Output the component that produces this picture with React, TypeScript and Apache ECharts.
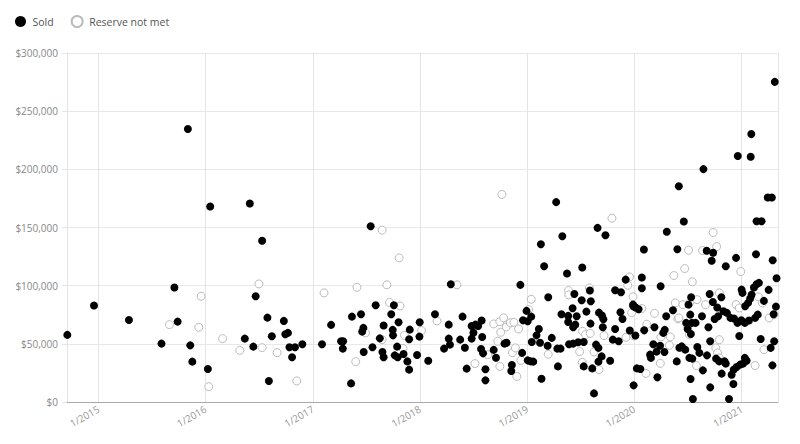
import React, { useEffect, useRef } from "react";
import * as echarts from "echarts";

const xMin = "2014-09-16";
const xMax = "2021-05-05";

const yTicks = [0, 50000, 100000, 150000, 200000, 250000, 300000];

const soldDates: string[] = [
  "2014-09-17","2014-12-17","2015-04-15","2015-08-04","2015-09-17","2015-09-28","2015-11-02","2015-11-10","2015-11-17","2016-01-09",
  "2016-01-17","2016-05-14","2016-05-31","2016-06-12","2016-06-20","2016-07-12","2016-07-30","2016-08-04","2016-08-14","2016-09-24",
  "2016-09-29","2016-10-08","2016-10-13","2016-10-22","2016-11-01","2016-11-26","2017-02-01","2017-03-04","2017-04-07","2017-04-13",
  "2017-04-14","2017-05-11","2017-05-14","2017-06-14","2017-06-18","2017-06-22","2017-06-23","2017-07-17","2017-07-23","2017-08-03",
  "2017-08-17","2017-08-26","2017-08-30","2017-08-30","2017-09-25","2017-09-30","2017-10-01","2017-10-04","2017-10-07","2017-10-15",
  "2017-10-17","2017-10-20","2017-11-06","2017-11-19","2017-11-25","2017-11-25","2017-11-27","2017-12-22","2017-12-30","2017-12-31",
  "2018-01-29","2018-02-21","2018-03-24","2018-04-09","2018-04-09","2018-04-13","2018-04-16","2018-05-18","2018-05-26","2018-06-03",
  "2018-06-09","2018-06-26","2018-06-26","2018-07-02","2018-07-09","2018-07-18","2018-07-28","2018-07-30","2018-08-01","2018-08-04",
  "2018-08-12","2018-08-12","2018-09-09","2018-09-17","2018-10-16","2018-10-23","2018-11-08","2018-11-10","2018-12-09","2018-12-15",
  "2018-12-18","2018-12-30","2019-01-03","2019-01-03","2019-01-13","2019-01-15","2019-01-17","2019-01-22","2019-02-02","2019-02-10",
  "2019-02-14","2019-02-17","2019-02-19","2019-02-28","2019-03-12","2019-03-14","2019-03-26","2019-04-10","2019-04-14","2019-04-16",
  "2019-04-25","2019-04-28","2019-05-01","2019-05-17","2019-05-21","2019-05-21","2019-05-24","2019-06-05","2019-06-07","2019-06-07",
  "2019-06-11","2019-06-14","2019-06-19","2019-06-24","2019-07-06","2019-07-08","2019-07-13","2019-07-13","2019-07-22","2019-08-03",
  "2019-08-05","2019-08-06","2019-08-11","2019-08-17","2019-08-24","2019-08-29","2019-09-01","2019-09-01","2019-09-03","2019-09-12",
  "2019-09-13","2019-09-16","2019-09-18","2019-09-25","2019-10-11","2019-10-20","2019-10-28","2019-10-28","2019-11-09","2019-11-15",
  "2019-11-17","2019-11-22","2019-12-03","2019-12-17","2019-12-28","2019-12-29","2019-12-30","2020-01-05","2020-01-06","2020-01-10",
  "2020-01-16","2020-01-22","2020-01-27","2020-01-27","2020-02-03","2020-02-04","2020-02-24","2020-02-27","2020-03-06","2020-03-10",
  "2020-03-17","2020-03-20","2020-03-29","2020-03-31","2020-04-09","2020-04-13","2020-04-14","2020-04-19","2020-04-21","2020-05-12",
  "2020-05-25","2020-05-27","2020-06-01","2020-06-03","2020-06-11","2020-06-18","2020-06-23","2020-06-26","2020-07-01","2020-07-04",
  "2020-07-07","2020-07-10","2020-07-11","2020-07-12","2020-07-13","2020-07-16","2020-07-17","2020-07-19","2020-07-28","2020-08-03",
  "2020-08-10","2020-08-19","2020-08-22","2020-08-24","2020-09-04","2020-09-05","2020-09-10","2020-09-14","2020-09-16","2020-09-16",
  "2020-09-21","2020-09-25","2020-09-26","2020-10-01","2020-10-06","2020-10-10","2020-10-13","2020-10-17","2020-10-24","2020-10-25",
  "2020-10-31","2020-11-04","2020-11-08","2020-11-08","2020-11-12","2020-11-19","2020-11-24","2020-11-28","2020-12-04","2020-12-05",
  "2020-12-06","2020-12-13","2020-12-15","2020-12-18","2020-12-19","2020-12-24","2020-12-27","2020-12-31","2021-01-01","2021-01-04",
  "2021-01-06","2021-01-12","2021-01-12","2021-01-13","2021-01-18","2021-01-23","2021-01-26","2021-01-30","2021-02-01","2021-02-03",
  "2021-02-04","2021-02-12","2021-02-16","2021-02-19","2021-02-21","2021-02-21","2021-02-25","2021-03-01","2021-03-07","2021-03-10",
  "2021-03-18","2021-03-31","2021-04-03","2021-04-10","2021-04-14","2021-04-16","2021-04-17","2021-04-20","2021-04-22","2021-04-24",
  "2021-04-28","2021-04-30"
];

const soldValues: number[] = [
  57700,82900,70500,50200,98400,69100,234700,48700,34700,28400,
  168000,54500,170700,47600,90900,138600,72500,18100,56500,69700,
  58200,59400,47000,38400,47000,49600,49600,66300,52200,45900,
  52200,16000,73400,75400,60500,63700,43000,151100,47000,83100,
  54700,43000,65700,38400,75400,62000,57300,83100,40100,47600,
  38400,68500,41300,34900,27800,53900,62200,40400,56200,68500,
  35500,75400,45900,66500,54500,49300,101200,53600,73400,46700,
  28700,65400,54500,59600,66500,65400,45600,70000,55900,41800,
  28100,18600,44800,38100,50200,51000,26700,31800,100700,42200,
  70200,78300,69400,35800,34900,73400,51600,34700,57300,62800,
  51000,135600,20000,116700,48400,90000,55100,171800,45900,30600,
  45900,75400,142500,110400,74000,68800,49600,80600,64200,50200,
  92900,66500,73700,51300,87400,115600,51600,30600,77700,95800,
  67400,86600,28900,7400,49300,149700,46500,34700,76800,39200,
  74300,64200,71100,143400,35500,53600,96000,62800,52200,77100,
  94300,71400,105200,61400,83700,82300,14300,57100,81200,28900,
  79700,28400,107000,97800,131100,61600,40700,37900,49600,64200,
  43300,21200,48400,99500,59400,43000,62000,73700,146300,78800,
  34900,131300,185500,46700,47800,155200,45000,68000,62800,83700,
  37900,75100,19800,58500,90000,68000,37300,2600,68000,47300,
  42200,73700,27200,200200,130000,40100,64200,92900,52200,12600,
  121400,86000,128300,71400,37300,81200,73700,34900,90000,24400,
  78000,34900,116700,33000,76600,2600,72300,23500,15500,27800,
  71700,123900,30100,68000,211400,56800,32100,70200,96600,93800,
  33000,68000,37900,82300,35500,85200,70000,88900,210800,230300,
  92300,98400,72300,127000,101200,155400,75100,102400,54200,155400,
  86900,175800,96400,46500,175800,31500,121900,75400,52200,275200,
  82000,106400
];

const reserveDates: string[] = [
  "2015-08-31","2015-12-09","2015-12-17","2016-01-12","2016-02-28","2016-04-27","2016-07-01","2016-07-12","2016-09-01","2016-11-07",
  "2017-02-08","2017-05-27","2017-05-31","2017-06-29","2017-08-25","2017-08-25","2017-09-10","2017-09-19","2017-10-22","2017-10-25",
  "2017-11-04","2017-11-09","2018-01-06","2018-02-28","2018-05-07","2018-07-07","2018-08-20","2018-09-09","2018-09-23","2018-09-30",
  "2018-09-30","2018-10-03","2018-10-07","2018-10-13","2018-10-22","2018-11-05","2018-11-12","2018-11-17","2018-11-22","2018-11-27",
  "2018-12-03","2018-12-11","2019-01-06","2019-01-15","2019-03-14","2019-05-22","2019-05-23","2019-06-29","2019-07-08","2019-07-09",
  "2019-07-19","2019-08-01","2019-08-04","2019-08-17","2019-09-03","2019-09-20","2019-10-17","2019-12-04","2019-12-10","2019-12-16",
  "2019-12-23","2019-12-28","2019-12-31","2020-01-27","2020-02-10","2020-02-13","2020-03-10","2020-03-30","2020-04-01","2020-04-30",
  "2020-05-03","2020-05-15","2020-05-20","2020-05-29","2020-06-01","2020-06-15","2020-06-21","2020-07-01","2020-07-04","2020-07-07",
  "2020-07-09","2020-07-17","2020-07-31","2020-08-02","2020-08-21","2020-08-31","2020-09-26","2020-10-05","2020-10-08","2020-10-11",
  "2020-10-17","2020-10-17","2020-10-17","2020-12-13","2020-12-24","2020-12-29","2021-02-16","2021-02-27","2021-03-13","2021-03-18",
  "2021-04-05","2021-04-22"
];

const reserveValues: number[] = [
  66500,64200,90900,13200,54500,44400,101500,46700,42400,18100,
  93800,34700,98600,59400,147700,53600,100700,85500,123900,82600,
  46100,57300,61400,69700,100700,33000,40700,67100,52200,69100,
  30600,59900,178400,72300,64500,68000,42400,68500,46500,22000,
  62800,35800,79400,88300,41000,95800,92100,43300,34100,60800,
  57900,98100,59000,43000,27800,57100,158000,55600,100300,107500,
  76800,90400,56800,80300,24600,66800,76200,33200,55900,48700,
  55900,108700,85200,71400,72300,83700,114700,65100,130500,57900,
  85700,103300,31300,88000,130200,83700,145700,46500,133600,42200,
  93800,53600,37900,83700,80800,112100,31300,90400,85200,45000,
  72300,75100
];

const seriesNames = ["Sold", "Reserve not met"];

const FONT = "'Open Sans', sans-serif";

export default function App() {
  const ref = useRef<HTMLDivElement>(null);
  useEffect(() => {
    if (!ref.current) return;
    const chart = echarts.init(ref.current, undefined, { renderer: "svg" });
    const sold = soldDates.map((d, i) => [d, soldValues[i]]);
    const reserve = reserveDates.map((d, i) => [d, reserveValues[i]]);
    const year = 365 * 24 * 3600 * 1000;
    chart.setOption({
      animation: false,
      textStyle: { fontFamily: FONT },
      legend: {
        data: seriesNames,
        left: 15,
        top: 15,
        padding: 0,
        icon: "circle",
        itemWidth: 14,
        itemHeight: 11,
        itemGap: 17,
        textStyle: { color: "#555", fontSize: 10.5, fontFamily: FONT },
      },
      grid: { left: 67, right: 22, top: 53, bottom: 42 },
      xAxis: {
        type: "time",
        min: xMin,
        max: xMax,
        minInterval: year,
        maxInterval: year * 1.01,
        splitNumber: 7,
        axisLine: { show: true, lineStyle: { color: "#aaa", width: 1 } },
        axisTick: { show: false },
        splitLine: { show: true, lineStyle: { color: "#e4e4e4", width: 1 } },
        axisLabel: {
          rotate: 30,
          margin: 6,
          color: "#999",
          fontSize: 10,
          fontFamily: FONT,
          formatter: (v: number) => {
            const d = new Date(v);
            return `${d.getMonth() + 1}/${d.getFullYear()}`;
          },
        },
      },
      yAxis: {
        type: "value",
        min: yTicks[0],
        max: yTicks[yTicks.length - 1],
        interval: 50000,
        axisLine: { show: true, lineStyle: { color: "#e4e4e4" } },
        axisTick: { show: true, length: 5, lineStyle: { color: "#e4e4e4" } },
        splitLine: { show: true, lineStyle: { color: "#e8e8e8" } },
        axisLabel: {
          color: "#888",
          fontSize: 10,
          margin: 9,
          fontFamily: FONT,
          formatter: (v: number) => "$" + v.toLocaleString("en-US"),
        },
      },
      series: [
        {
          name: seriesNames[0],
          type: "scatter",
          data: sold,
          symbol: "circle",
          symbolSize: 8,
          z: 3,
          itemStyle: { color: "#000", borderColor: "#000", borderWidth: 0, opacity: 1 },
        },
        {
          name: seriesNames[1],
          type: "scatter",
          data: reserve,
          symbol: "circle",
          symbolSize: 8,
          z: 2,
          itemStyle: { color: "#fff", borderColor: "#bbb", borderWidth: 1, opacity: 1 },
        },
      ],
    });
    return () => chart.dispose();
  }, []);
  return <div ref={ref} style={{ width: 800, height: 444, position: "absolute", left: 0, top: 0 }} />;
}
